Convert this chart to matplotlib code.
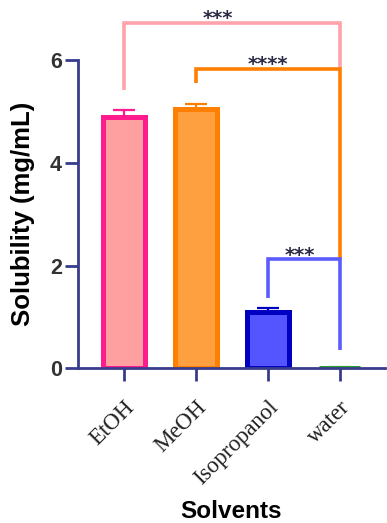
import matplotlib
matplotlib.use("Agg")
import matplotlib.pyplot as plt

# data
solvents = ["EtOH", "MeOH", "Isopropanol", "water"]
solubility = [4.90, 5.06, 1.10, 0.01]
sem = [0.14, 0.08, 0.07, 0.02]

# brackets: (x1, x2, left leg bottom, top, right leg bottom, label)
brackets = [
    (0, 3, 5.43, 6.73, 5.84, "***"),
    (1, 3, 5.56, 5.84, 2.12, "****"),
    (2, 3, 1.36, 2.12, 0.35, "***"),
]

AXIS = "#383c8c"
FILL = ["#ffa0a0", "#ffa040", "#5555ff", "#2e9e2e"]
EDGE = ["#ff1b8d", "#ff8000", "#0000c0", "#2e9e2e"]
ERR = ["#ff1b8d", "#ff8000", "#0000c0", "#2e9e2e"]
BRACKET = ["#ffa3ab", "#ff8000", "#5b5bff"]
STAR_X = [1.3, 2.0, 2.45]

fig = plt.figure(figsize=(3.87, 5.23), dpi=100)
ax = fig.add_axes([0.2016, 0.296, 0.793, 0.677])

x = list(range(len(solvents)))
ax.bar(x, solubility, width=0.58, color=FILL, edgecolor=EDGE, linewidth=3.6, zorder=2)
for i in x:
    ax.errorbar(i, solubility[i], yerr=[[0], [sem[i]]], fmt="none",
                ecolor=ERR[i], elinewidth=1.6, capsize=8, capthick=1.6, zorder=1)

for (x1, x2, yl, yt, yr, lab), col, sx in zip(brackets, BRACKET, STAR_X):
    ax.plot([x1, x1, x2, x2], [yl, yt, yt, yr], color=col, lw=2.6,
            solid_joinstyle="miter", solid_capstyle="butt", zorder=3, clip_on=False)
    ax.text(sx, yt - 0.1, lab, ha="center", va="bottom", fontsize=14,
            color="#2b2b45", fontweight="bold", family="DejaVu Sans")

ax.set_xlim(-0.64, 3.63)
ax.set_ylim(0, 6.9)
ax.set_yticks([0, 2, 4, 6])
ax.set_xticks(x)
ax.set_xticklabels(solvents, rotation=45, ha="right", rotation_mode="anchor",
                   family="Liberation Serif", fontsize=16.5)
for t in ax.get_yticklabels():
    t.set_fontweight("bold")
    t.set_fontsize(15.5)
    t.set_family("Liberation Sans")

for s in ("top", "right"):
    ax.spines[s].set_visible(False)
ax.spines["left"].set_bounds(0, 6)
for s in ("left", "bottom"):
    ax.spines[s].set_color(AXIS)
    ax.spines[s].set_linewidth(2)
ax.tick_params(axis="both", colors=AXIS, width=2, length=9.5)
ax.tick_params(axis="y", labelcolor="#333333", pad=2)
ax.tick_params(axis="x", labelcolor="#222222", pad=11)

ax.set_ylabel("Solubility (mg/mL)", fontsize=18.5, fontweight="bold",
              family="Liberation Sans")
ax.yaxis.set_label_coords(-0.14, 3 / 6.9)
ax.set_xlabel("Solvents", fontsize=17.5, fontweight="bold",
              family="Liberation Sans")
ax.xaxis.set_label_coords(0.5, -0.372)

fig.savefig("out.png", dpi=100)
